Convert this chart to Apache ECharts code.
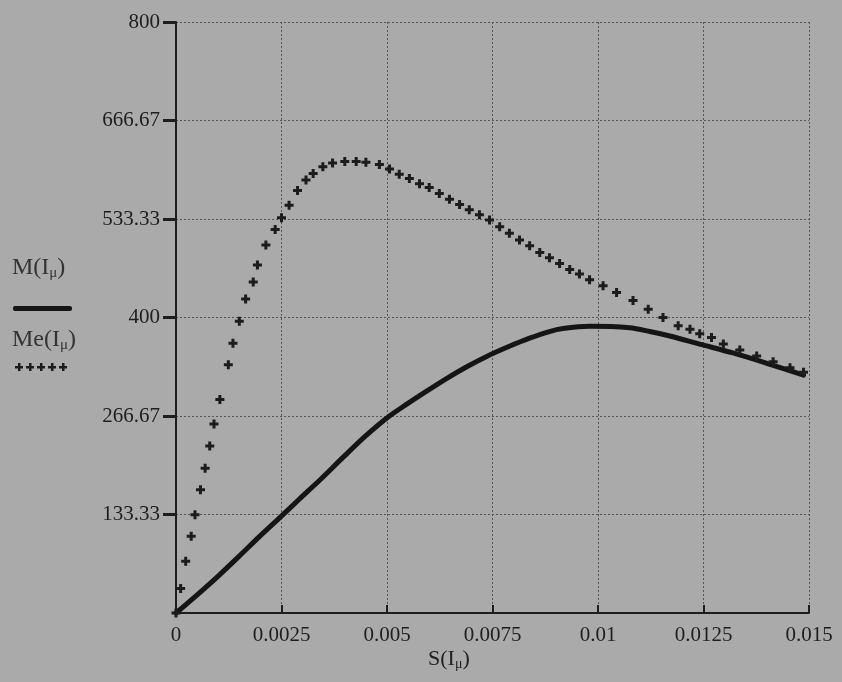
<!DOCTYPE html>
<html>
<head>
<meta charset="utf-8">
<script src="https://cdn.jsdelivr.net/npm/echarts@6/dist/echarts.min.js"></script>
<style>
html,body{margin:0;padding:0;background:#aaaaaa;}
#chart{width:842px;height:682px;}
</style>
</head>
<body>
<div id="chart"></div>
<script>
// S(Iμ) values (x) and torque values
const mS = [0, 0.00055, 0.00102, 0.0015, 0.00197, 0.00244, 0.00292, 0.00339, 0.004, 0.0045, 0.00502, 0.00545, 0.00593, 0.0064, 0.00688, 0.00735, 0.0079, 0.00838, 0.00885, 0.00917, 0.0098, 0.01075, 0.01123, 0.0117, 0.01241, 0.0132, 0.014, 0.01487];
const mVal = [0, 27, 51, 77, 103, 128, 154, 179, 213, 240, 265, 282, 300, 317, 333, 347, 361, 372, 381, 385, 388, 386, 381, 375, 364, 352, 338, 322];

const meS = [0, 0.00011, 0.00023, 0.00036, 0.00045, 0.00058, 0.00069, 0.0008, 0.0009, 0.00104, 0.00124, 0.00135, 0.0015, 0.00165, 0.00183, 0.00193, 0.00213, 0.00235, 0.0025, 0.00268, 0.00288, 0.00308, 0.00325, 0.00348, 0.00371, 0.004, 0.00427, 0.0045, 0.00482, 0.00506, 0.00529, 0.00553, 0.00577, 0.006, 0.00624, 0.00648, 0.00672, 0.00695, 0.00719, 0.00743, 0.00767, 0.0079, 0.00814, 0.00838, 0.00862, 0.00885, 0.00909, 0.00933, 0.00956, 0.0098, 0.01012, 0.01044, 0.01083, 0.01119, 0.01154, 0.0119, 0.01218, 0.01241, 0.01269, 0.01297, 0.01336, 0.01376, 0.01415, 0.01455, 0.01487];
const meVal = [0, 33, 70, 104, 133, 167, 196, 226, 256, 289, 336, 365, 395, 425, 448, 471, 498, 519, 535, 552, 572, 586, 595, 604, 609, 611, 611, 610, 607, 601, 594, 588, 581, 576, 568, 560, 553, 546, 539, 532, 523, 514, 505, 497, 488, 481, 473, 465, 459, 451, 443, 434, 423, 411, 400, 389, 384, 378, 373, 364, 356, 348, 340, 332, 326];

const xTicks = {min: 0, max: 0.015, step: 0.0025};
const yTicks = {min: 0, max: 800, step: 800 / 6};

const pair = (xs, ys) => xs.map((x, i) => [x, ys[i]]);
const FONT = '"Liberation Serif", "DejaVu Serif", serif';
const plus = 'path://M3,0H6V3H9V6H6V9H3V6H0V3H3Z';

const chart = echarts.init(document.getElementById('chart'));
const legendPlus = [];
[0, 1, 2, 3, 4].forEach(i => {
  const cx = 19 + i * 11, cy = 367;
  legendPlus.push({type: 'rect', shape: {x: cx - 4, y: cy - 1, width: 8, height: 2.5}, style: {fill: '#1c1c1c'}});
  legendPlus.push({type: 'rect', shape: {x: cx - 1, y: cy - 4, width: 2.5, height: 8}, style: {fill: '#1c1c1c'}});
});
chart.setOption({
  backgroundColor: '#aaaaaa',
  animation: false,
  grid: {left: 176, right: 33, top: 22, bottom: 69},
  xAxis: {
    type: 'value', min: xTicks.min, max: xTicks.max, interval: xTicks.step,
    axisLine: {onZero: false, lineStyle: {color: '#1e1e1e', width: 2}},
    axisTick: {inside: true, length: 8, lineStyle: {color: '#1e1e1e', width: 2}},
    axisLabel: {
      color: '#1e1e1e', fontFamily: FONT, fontSize: 21, margin: 12,
      formatter: v => String(parseFloat(v.toFixed(4)))
    },
    splitLine: {show: true, lineStyle: {color: '#555', width: 1, type: [2, 2]}}
  },
  yAxis: {
    type: 'value', min: yTicks.min, max: yTicks.max, interval: yTicks.step,
    axisLine: {show: true, onZero: false, lineStyle: {color: '#1e1e1e', width: 2}},
    axisTick: {show: true, length: 13, lineStyle: {color: '#1e1e1e', width: 3}},
    axisLabel: {
      color: '#1e1e1e', fontFamily: FONT, fontSize: 21, margin: 16,
      showMinLabel: false,
      formatter: v => String(Math.round(v * 100) / 100)
    },
    splitLine: {show: true, lineStyle: {color: '#555', width: 1, type: [2, 2]}}
  },
  graphic: [
    {type: 'text', left: 12, top: 256, style: {
      text: 'M(I{s|μ})', fill: '#333', font: '24px ' + FONT,
      rich: {s: {fontSize: 15, fontFamily: FONT, fill: '#333', padding: [10, 0, 0, 0]}}
    }},
    {type: 'rect', shape: {x: 13, y: 306, width: 59, height: 5, r: 2}, style: {fill: '#151515'}},
    {type: 'text', left: 12, top: 328, style: {
      text: 'Me(I{s|μ})', fill: '#333', font: '24px ' + FONT,
      rich: {s: {fontSize: 15, fontFamily: FONT, fill: '#333', padding: [10, 0, 0, 0]}}
    }},
    ...legendPlus,
    {type: 'text', left: 428, top: 648, style: {
      text: 'S(I{s|μ})', fill: '#222', font: '22px ' + FONT,
      rich: {s: {fontSize: 14, fontFamily: FONT, fill: '#222', padding: [10, 0, 0, 0]}}
    }}
  ],
  series: [
    {
      name: 'M(Iμ)', type: 'line', data: pair(mS, mVal),
      showSymbol: false, smooth: 0.3,
      lineStyle: {color: '#151515', width: 5, cap: 'round', join: 'round'},
      z: 3
    },
    {
      name: 'Me(Iμ)', type: 'line', data: pair(meS, meVal),
      symbol: plus, symbolSize: 9, showSymbol: true,
      itemStyle: {color: '#1c1c1c'},
      lineStyle: {width: 0, opacity: 0},
      z: 4
    }
  ]
});
</script>
</body>
</html>
